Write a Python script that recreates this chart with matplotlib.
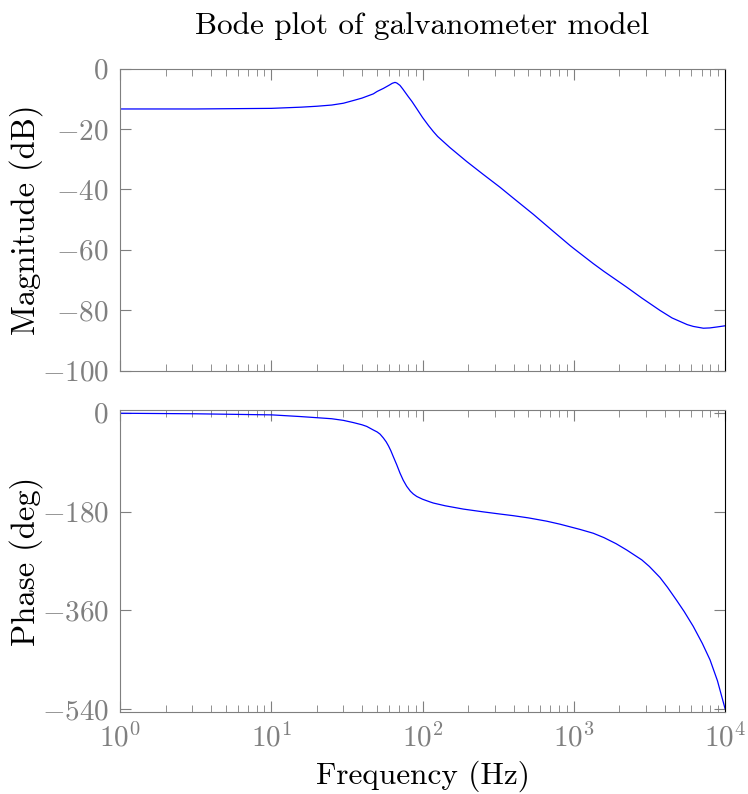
import matplotlib
matplotlib.use("Agg")
import matplotlib.pyplot as plt
from matplotlib.ticker import LogLocator, FixedLocator

# values
freq_mag = [1.0, 3.16, 10.0, 15.8, 20.0, 25.1, 30.0, 35.5, 39.8, 47.3, 50.1, 55.1,
            60.3, 63.1, 65.8, 67.6, 71.0, 74.1, 80.5, 85.1, 91.6, 100.0, 109.6,
            118.0, 125.9, 152.0, 196.0, 251.0, 325.0, 398.0, 541.0, 708.0, 811.0,
            944.0, 1000.0, 1346.0, 1585.0, 2239.0, 2818.0, 3715.0, 4467.0,
            5623.0, 6166.0, 7194.0, 7943.0, 8810.0, 10000.0]
mag_db = [-13.4, -13.4, -13.2, -12.8, -12.5, -12.1, -11.5, -10.5, -9.8, -8.4, -7.6, -6.6,
          -5.5, -4.9, -4.6, -4.8, -5.6, -6.8, -9.3, -10.9, -13.3, -16.2, -18.9,
          -20.9, -22.5, -26.2, -30.8, -35.0, -39.3, -42.9, -48.3, -53.3, -55.8,
          -58.6, -59.6, -64.6, -67.2, -72.4, -76.0, -80.1, -82.6,
          -84.8, -85.4, -86.0, -85.9, -85.6, -85.2]

freq_ph = [1.0, 3.16, 10.1, 15.5, 21.0, 25.1, 30.0, 34.9, 39.8, 42.8, 47.3, 50.1, 52.4,
           55.1, 57.5, 59.6, 61.7, 64.1, 67.6, 71.0, 74.6, 78.6, 83.2, 86.9, 91.6,
           100.0, 112.2, 118.0, 141.3, 186.2, 251.0, 325.0, 398.0, 501.0, 662.0,
           811.0, 1099.0, 1346.0, 1585.0, 1905.0, 2239.0, 2818.0, 3162.0, 3715.0,
           4169.0, 4797.0, 5370.0, 6166.0, 7079.0, 7962.0, 8913.0, 10000.0]
phase_deg = [-1.0, -2.0, -4.0, -7.0, -9.5, -11.0, -14.0, -18.0, -22.0, -25.0, -31.5, -35.0, -39.0,
             -46.0, -53.0, -60.5, -69.0, -80.0, -95.0, -110.0, -123.0, -134.0, -143.0, -148.0, -152.5,
             -157.5, -162.5, -164.5, -169.5, -175.5, -180.5, -184.5, -187.5, -191.5, -197.5,
             -203.0, -212.5, -219.5, -227.5, -238.5, -250.0, -268.0, -280.0, -300.0,
             -318.0, -342.0, -362.0, -389.0, -420.0, -450.0, -488.0, -538.5]

mag_ticks = [-100, -80, -60, -40, -20, 0]
phase_ticks = [-540, -360, -180, 0]

plt.rcParams['font.family'] = 'serif'
plt.rcParams['font.serif'] = ['cmr10']
plt.rcParams['mathtext.fontset'] = 'cm'
plt.rcParams['axes.formatter.use_mathtext'] = True
plt.rcParams['axes.unicode_minus'] = True

gray = '#7f7f7f'
W, H = 748, 794
fig = plt.figure(figsize=(W / 100, H / 100), dpi=100)
ax1 = fig.add_axes([120 / W, 1 - 370.5 / H, 605 / W, 302 / H])
ax2 = fig.add_axes([120 / W, 1 - 712.3 / H, 605 / W, 302.3 / H])

ax1.plot(freq_mag, mag_db, color='#0000ff', lw=0.9)
ax2.plot(freq_ph, phase_deg, color='#0000ff', lw=0.9)

for ax in (ax1, ax2):
    ax.set_xscale('log')
    ax.set_xlim(1, 1e4)
    ax.xaxis.set_major_locator(LogLocator(base=10, numticks=10))
    ax.xaxis.set_minor_locator(LogLocator(base=10, subs=range(2, 10), numticks=20))
    for s in ('left', 'top', 'bottom'):
        ax.spines[s].set_color(gray)
    ax.spines['right'].set_color('black')
    ax.tick_params(which='both', direction='in', top=True, right=True,
                   color=gray, labelcolor=gray, labelsize=21)
    ax.tick_params(which='major', length=8, width=0.8, pad=8)
    ax.tick_params(which='minor', length=5, width=0.6)

ax1.set_ylim(-100, 0)
ax1.yaxis.set_major_locator(FixedLocator(mag_ticks))
ax1.tick_params(axis='x', labelbottom=False)

ax2.set_ylim(-545.5, 4.9)
ax2.yaxis.set_major_locator(FixedLocator(phase_ticks))

ax1.set_title('Bode plot of galvanometer model', fontsize=22.5, pad=25)
ax1.set_ylabel('Magnitude (dB)', fontsize=23.5)
ax2.set_ylabel('Phase (deg)', fontsize=23.5)
ax2.set_xlabel('Frequency (Hz)', fontsize=22.5)
ax1.yaxis.set_label_coords(-0.127, 0.5)
ax2.yaxis.set_label_coords(-0.127, 0.5)
ax2.xaxis.set_label_coords(0.5, -0.16)

fig.savefig("out.png", dpi=100)
